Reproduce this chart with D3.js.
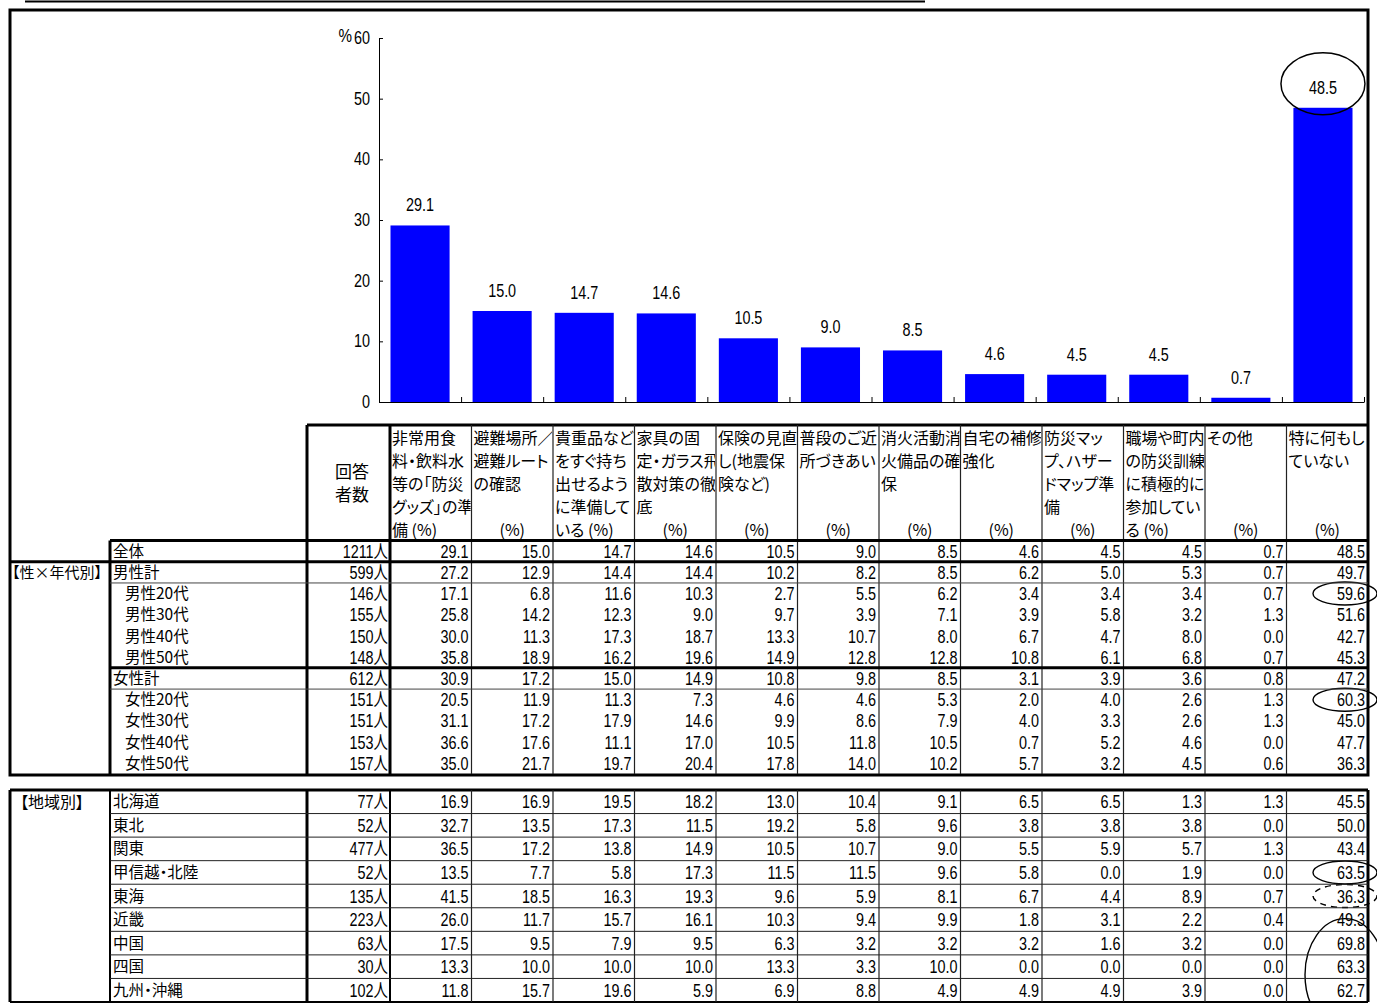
<!DOCTYPE html>
<html>
<head>
<meta charset="utf-8">
<script src="https://cdn.jsdelivr.net/npm/d3@7"></script>
<style>
body { margin: 0; background: #fff; }
svg text { font-family: "Liberation Sans", "Noto Sans CJK JP", sans-serif; fill: #000; }
svg text.jp { font-family: "Noto Sans CJK JP", sans-serif; font-feature-settings: "palt"; }
</style>
</head>
<body>
<svg id="chart" width="1377" height="1003"></svg>
<script>
// header text of each item, split by line as in the original sheet
const itemHeaders = [
    ['非常用食', '料・飲料水', '等の「防災', 'グッズ」の準', '備'],
    ['避難場所／', '避難ルート', 'の確認'],
    ['貴重品など', 'をすぐ持ち', '出せるよう', 'に準備して', 'いる'],
    ['家具の固', '定・ガラス飛', '散対策の徹', '底'],
    ['保険の見直', 'し(地震保', '険など)'],
    ['普段のご近', '所づきあい'],
    ['消火活動消', '火備品の確', '保'],
    ['自宅の補修', '強化'],
    ['防災マッ', 'プ、ハザー', 'ドマップ準', '備'],
    ['職場や町内', 'の防災訓練', 'に積極的に', '参加してい', 'る'],
    ['その他'],
    ['特に何もし', 'ていない']
];

const yTicks = [0, 10, 20, 30, 40, 50, 60];

const sexAgeRows = ['全体', '男性計', '男性20代', '男性30代', '男性40代', '男性50代',
    '女性計', '女性20代', '女性30代', '女性40代', '女性50代'];
const sexAgeN = [1211, 599, 146, 155, 150, 148, 612, 151, 151, 153, 157];
const sexAgeValues = [
    [29.1, 15.0, 14.7, 14.6, 10.5, 9.0, 8.5, 4.6, 4.5, 4.5, 0.7, 48.5],
    [27.2, 12.9, 14.4, 14.4, 10.2, 8.2, 8.5, 6.2, 5.0, 5.3, 0.7, 49.7],
    [17.1, 6.8, 11.6, 10.3, 2.7, 5.5, 6.2, 3.4, 3.4, 3.4, 0.7, 59.6],
    [25.8, 14.2, 12.3, 9.0, 9.7, 3.9, 7.1, 3.9, 5.8, 3.2, 1.3, 51.6],
    [30.0, 11.3, 17.3, 18.7, 13.3, 10.7, 8.0, 6.7, 4.7, 8.0, 0.0, 42.7],
    [35.8, 18.9, 16.2, 19.6, 14.9, 12.8, 12.8, 10.8, 6.1, 6.8, 0.7, 45.3],
    [30.9, 17.2, 15.0, 14.9, 10.8, 9.8, 8.5, 3.1, 3.9, 3.6, 0.8, 47.2],
    [20.5, 11.9, 11.3, 7.3, 4.6, 4.6, 5.3, 2.0, 4.0, 2.6, 1.3, 60.3],
    [31.1, 17.2, 17.9, 14.6, 9.9, 8.6, 7.9, 4.0, 3.3, 2.6, 1.3, 45.0],
    [36.6, 17.6, 11.1, 17.0, 10.5, 11.8, 10.5, 0.7, 5.2, 4.6, 0.0, 47.7],
    [35.0, 21.7, 19.7, 20.4, 17.8, 14.0, 10.2, 5.7, 3.2, 4.5, 0.6, 36.3]
];

const regionRows = ['北海道', '東北', '関東', '甲信越・北陸', '東海', '近畿', '中国', '四国', '九州・沖縄'];
const regionN = [77, 52, 477, 52, 135, 223, 63, 30, 102];
const regionValues = [
    [16.9, 16.9, 19.5, 18.2, 13.0, 10.4, 9.1, 6.5, 6.5, 1.3, 1.3, 45.5],
    [32.7, 13.5, 17.3, 11.5, 19.2, 5.8, 9.6, 3.8, 3.8, 3.8, 0.0, 50.0],
    [36.5, 17.2, 13.8, 14.9, 10.5, 10.7, 9.0, 5.5, 5.9, 5.7, 1.3, 43.4],
    [13.5, 7.7, 5.8, 17.3, 11.5, 11.5, 9.6, 5.8, 0.0, 1.9, 0.0, 63.5],
    [41.5, 18.5, 16.3, 19.3, 9.6, 5.9, 8.1, 6.7, 4.4, 8.9, 0.7, 36.3],
    [26.0, 11.7, 15.7, 16.1, 10.3, 9.4, 9.9, 1.8, 3.1, 2.2, 0.4, 49.3],
    [17.5, 9.5, 7.9, 9.5, 6.3, 3.2, 3.2, 3.2, 1.6, 3.2, 0.0, 69.8],
    [13.3, 10.0, 10.0, 10.0, 13.3, 3.3, 10.0, 0.0, 0.0, 0.0, 0.0, 63.3],
    [11.8, 15.7, 19.6, 5.9, 6.9, 8.8, 4.9, 4.9, 4.9, 3.9, 0.0, 62.7]
];

// chart shows the 全体 row
const overall = sexAgeValues[0];

const svg = d3.select('#chart');
const fmt = d3.format('.1f');
const NARROW = 0.8;

function numText(g, x, y, str, anchor, size) {
    return g.append('text')
        .attr('transform', `translate(${x},${y}) scale(${NARROW},1)`)
        .attr('text-anchor', anchor || 'end')
        .attr('font-size', (size || 18) + 'px')
        .text(str);
}
function hline(x1, x2, y, w, c) {
    svg.append('line').attr('x1', x1).attr('x2', x2).attr('y1', y).attr('y2', y)
        .attr('stroke', c || '#000').attr('stroke-width', w);
}
function vline(x, y1, y2, w, c) {
    svg.append('line').attr('x1', x).attr('x2', x).attr('y1', y1).attr('y2', y2)
        .attr('stroke', c || '#000').attr('stroke-width', w);
}

// thin rule at the very top and the frame
hline(25, 925, 1.5, 2);
svg.append('rect').attr('x', 10).attr('y', 10).attr('width', 1358).attr('height', 765)
    .attr('fill', 'none').attr('stroke', '#000').attr('stroke-width', 3);

// ---- bar chart ----
const y = d3.scaleLinear().domain([0, 60]).range([402, 38]);
const x = d3.scaleBand().domain(d3.range(overall.length)).range([379, 1364])
    .paddingInner(0.28).paddingOuter(0.14);
const xEdge = d3.scaleLinear().domain([0, overall.length]).range([379, 1364]);

const chart = svg.append('g');
chart.append('g')
    .attr('transform', 'translate(379,0)')
    .call(d3.axisLeft(y).tickValues(yTicks).tickSizeInner(-4).tickSizeOuter(0).tickFormat(''))
    .call(g => g.selectAll('line,path').attr('stroke', '#000'));
chart.append('g')
    .attr('transform', 'translate(0,402)')
    .call(d3.axisBottom(xEdge).tickValues(d3.range(1, overall.length + 1)).tickSizeInner(-5).tickSizeOuter(0).tickFormat(''))
    .call(g => g.selectAll('line,path').attr('stroke', '#000'));

yTicks.forEach(t => numText(chart, 370, y(t) + 6, String(t)));
numText(chart, 352, y(60) + 4, '%', 'end', 19);

chart.selectAll('rect.bar').data(overall).enter().append('rect')
    .attr('class', 'bar')
    .attr('x', (d, i) => x(i))
    .attr('width', x.bandwidth())
    .attr('y', d => y(d))
    .attr('height', d => y(0) - y(d))
    .attr('fill', '#0000ff');

overall.forEach((v, i) => numText(chart, x(i) + x.bandwidth() / 2, y(v) - 14, fmt(v), 'middle'));

// ellipse around the largest value
const last = overall.length - 1;
chart.append('ellipse')
    .attr('cx', x(last) + x.bandwidth() / 2)
    .attr('cy', y(overall[last]) - 24)
    .attr('rx', 42).attr('ry', 31)
    .attr('fill', 'none').attr('stroke', '#000').attr('stroke-width', 1.5);

// ---- table ----
const colX = d3.scaleBand().domain(d3.range(itemHeaders.length)).range([390, 1368]);
const rows1 = d3.scaleBand().domain(d3.range(sexAgeRows.length)).range([540.5, 774]);
const rows2 = d3.scaleBand().domain(d3.range(regionRows.length)).range([790, 1002]);

const table = svg.append('g');
const defs = svg.append('defs');

// header, each cell clipped to its column like the spreadsheet
const lineY = [444, 467, 490, 513, 536];
itemHeaders.forEach((lines, c) => {
    const x0 = colX(c) + 2;
    defs.append('clipPath').attr('id', 'hc' + c)
        .append('rect').attr('x', colX(c)).attr('y', 425).attr('width', colX.bandwidth() - 1).attr('height', 115);
    const cell = table.append('g').attr('clip-path', `url(#hc${c})`);
    lines.forEach((ln, k) => {
        const txt = (k === 4) ? ln + ' (%)' : ln;
        cell.append('text').attr('class', 'jp').attr('x', x0).attr('y', lineY[k])
            .attr('font-size', '16px').text(txt);
    });
    if (lines.length < 5) {
        cell.append('text').attr('class', 'jp')
            .attr('x', colX(c) + colX.bandwidth() / 2).attr('y', lineY[4])
            .attr('text-anchor', 'middle').attr('font-size', '16px').text('(%)');
    }
});
table.append('text').attr('class', 'jp').attr('x', 352).attr('y', 478)
    .attr('text-anchor', 'middle').attr('font-size', '17px').text('回答');
table.append('text').attr('class', 'jp').attr('x', 352).attr('y', 501)
    .attr('text-anchor', 'middle').attr('font-size', '17px').text('者数');

function drawRows(rowScale, labels, counts, values) {
    const h = rowScale.bandwidth();
    labels.forEach((lab, r) => {
        const base = rowScale(r) + h / 2 + 6.5;
        const indent = lab.endsWith('代') ? 12 : 0;
        table.append('text').attr('class', 'jp').attr('x', 113 + indent).attr('y', base - 1)
            .attr('font-size', '15.5px').text(lab);
        numText(table, 388, base, counts[r] + '人');
        values[r].forEach((v, c) => numText(table, colX(c) + colX.bandwidth() - 3, base, fmt(v)));
    });
}
drawRows(rows1, sexAgeRows, sexAgeN, sexAgeValues);
drawRows(rows2, regionRows, regionN, regionValues);

table.append('text').attr('class', 'jp').attr('x', 12).attr('y', rows1(1) + rows1.bandwidth() / 2 + 6)
    .attr('font-size', '15px').text('【性×年代別】');
table.append('text').attr('class', 'jp').attr('x', 20).attr('y', rows2(0) + rows2.bandwidth() / 2 + 6)
    .attr('font-size', '16px').text('【地域別】');

// grid of section 1
hline(307, 1368, 425, 3);
vline(307, 425, 774, 3);
vline(390, 425, 774, 3);
colX.domain().slice(1).forEach(c => vline(colX(c), 425, 774, 1.2, '#222'));
hline(110, 1368, 540.5, 3);
vline(110, 540.5, 774, 3);
hline(10, 1368, rows1(1), 3);
hline(110, 1368, rows1(2), 1, '#444');
hline(110, 1368, rows1(6), 3);
hline(110, 1368, rows1(7), 1, '#444');

// grid of section 2
hline(10, 1368, 790, 3);
hline(10, 1368, 1002, 2);
vline(10, 790, 1002, 3);
vline(1368, 790, 1002, 3);
vline(110, 790, 1002, 2);
vline(307, 790, 1002, 3);
vline(390, 790, 1002, 2);
colX.domain().slice(1).forEach(c => vline(colX(c), 790, 1002, 1.2, '#222'));
rows2.domain().slice(1).forEach(r => hline(110, 1368, rows2(r), 1, '#222'));

// hand-drawn style marks on the last column
const markX = colX(last) + colX.bandwidth() - 23;
function cellEllipse(rowScale, r, dashed) {
    table.append('ellipse')
        .attr('cx', markX).attr('cy', rowScale(r) + rowScale.bandwidth() / 2)
        .attr('rx', 32).attr('ry', 11.5)
        .attr('fill', 'none').attr('stroke', '#000').attr('stroke-width', 1.4)
        .attr('stroke-dasharray', dashed ? '6,5' : null);
}
cellEllipse(rows1, 2);
cellEllipse(rows1, 7);
cellEllipse(rows2, 3);
cellEllipse(rows2, 4, true);
table.append('ellipse')
    .attr('cx', markX).attr('cy', rows2(7) + rows2.bandwidth() / 2 + 8)
    .attr('rx', 40).attr('ry', 56)
    .attr('fill', 'none').attr('stroke', '#000').attr('stroke-width', 1.4);
</script>
</body>
</html>
